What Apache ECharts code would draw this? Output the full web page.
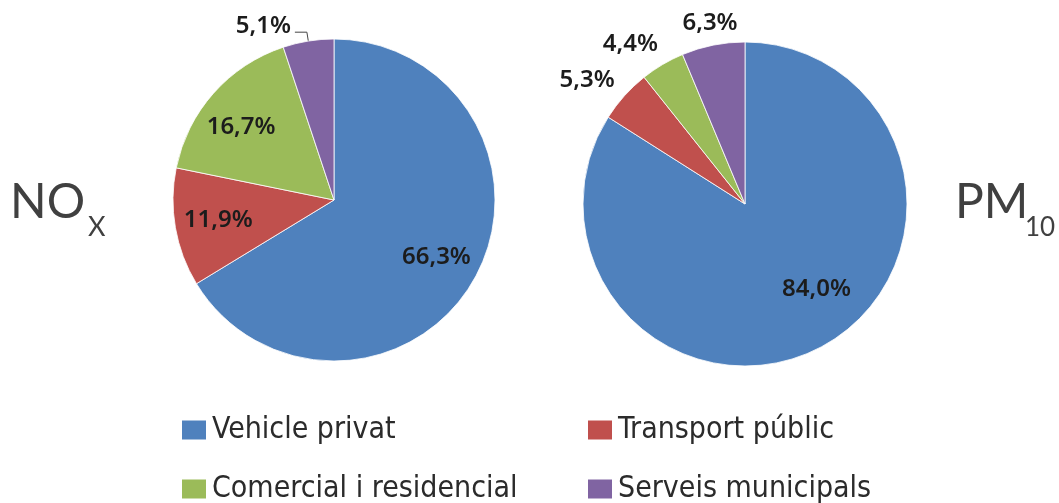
<!DOCTYPE html>
<html>
<head>
<meta charset="utf-8">
<script src="https://cdn.jsdelivr.net/npm/echarts@6/dist/echarts.min.js"></script>
<style>
  html, body { margin: 0; padding: 0; background: #fff; }
  #chart { width: 1059px; height: 503px; }
</style>
</head>
<body>
<div id="chart"></div>
<script>
// dades
const categories = ['Vehicle privat', 'Transport públic', 'Comercial i residencial', 'Serveis municipals'];
const noxValues = [66.3, 11.9, 16.7, 5.1];
const pm10Values = [84.0, 5.3, 4.4, 6.3];
const colors = ['#4F81BD', '#C0504D', '#9BBB59', '#8064A2'];

const labelFont = 'Noto Sans';
const legendFont = '"DejaVu Sans Condensed", "Liberation Sans", sans-serif';
const titleFont = 'Lato, "Open Sans", sans-serif';

function pct(v) {
  return v.toFixed(1).replace('.', ',') + '%';
}

// sectors visibles
function mainData(values, showIdx) {
  return values.map(function (v, i) {
    let item = { value: v, name: categories[i], itemStyle: { color: colors[i] } };
    if (showIdx.indexOf(i) >= 0) {
      item.label = { show: true };
      item.labelLine = { show: true };
    }
    return item;
  });
}

// anell transparent nomes per col·locar etiquetes
function labelData(values, showIdx) {
  return values.map(function (v, i) {
    return {
      value: v,
      name: categories[i],
      label: { show: showIdx.indexOf(i) >= 0 }
    };
  });
}

function labelRing(center, radius, values, showIdx, tweaks) {
  return {
    type: 'pie',
    center: center,
    radius: [0, radius],
    startAngle: 90,
    silent: true,
    animation: false,
    itemStyle: { color: 'rgba(0,0,0,0)', borderWidth: 0 },
    emphasis: { disabled: true },
    label: {
      show: true,
      position: 'inside',
      color: '#1c1c1c',
      fontFamily: labelFont,
      fontWeight: 600,
      fontSize: 24,
      formatter: function (p) { return pct(p.value); }
    },
    labelLine: { show: false },
    labelLayout: function (p) { return tweaks[p.dataIndex] || {}; },
    data: labelData(values, showIdx)
  };
}

let legendBase = {
  orient: 'vertical',
  top: 410,
  height: 93,
  itemGap: 29,
  itemWidth: 26,
  itemHeight: 21,
  icon: 'rect',
  textStyle: { fontFamily: legendFont, fontSize: 30, lineHeight: 30, color: '#2b2b2b' }
};

let myChart = echarts.init(document.getElementById('chart'));
let option = {
  animation: false,
  graphic: [
    { type: 'text', x: 10, y: 203, style: { text: 'NO', fontFamily: titleFont, fontSize: 48, fill: '#404040', verticalAlign: 'middle' } },
    { type: 'text', x: 88, y: 227, style: { text: 'X', fontFamily: titleFont, fontSize: 27, fill: '#404040', verticalAlign: 'middle' } },
    { type: 'text', x: 955, y: 203, style: { text: 'PM', fontFamily: titleFont, fontSize: 48, fill: '#404040', verticalAlign: 'middle' } },
    { type: 'text', x: 1025, y: 228, style: { text: '10', fontFamily: titleFont, fontSize: 26, fill: '#404040', verticalAlign: 'middle' } }
  ],
  legend: [
    Object.assign({}, legendBase, { left: 175, data: [categories[0], categories[2]] }),
    Object.assign({}, legendBase, { left: 581, data: [categories[1], categories[3]] })
  ],
  series: [
    {
      name: 'NOx',
      type: 'pie',
      center: [334, 200],
      radius: [0, 161],
      startAngle: 90,
      itemStyle: { borderColor: '#fff', borderWidth: 0.8 },
      emphasis: { disabled: true },
      label: {
        show: false,
        position: 'outside',
        color: '#1c1c1c',
        fontFamily: labelFont,
        fontWeight: 600,
        fontSize: 24,
        distanceToLabelLine: 4,
        formatter: function (p) { return pct(p.value); }
      },
      labelLine: { show: false, length: 9, length2: 12, smooth: false, lineStyle: { color: '#444', width: 1 } },
      labelLayout: function (p) { return p.dataIndex === 3 ? { dy: -6 } : {}; },
      data: mainData(noxValues, [3])
    },
    {
      name: 'PM10',
      type: 'pie',
      center: [745, 204],
      radius: [0, 162],
      startAngle: 90,
      itemStyle: { borderColor: '#fff', borderWidth: 0.8 },
      emphasis: { disabled: true },
      label: { show: false },
      labelLine: { show: false },
      data: mainData(pm10Values, [])
    },
    labelRing([334, 200], 229, noxValues, [0, 1, 2], { 2: { dx: -5, dy: 5 } }),
    labelRing([745, 204], 220, pm10Values, [0], { 0: { dx: 17, dy: -14 } }),
    labelRing([745, 204], 370, pm10Values, [1, 2, 3], { 1: { dx: -18, dy: 2 }, 2: { dx: -19, dy: 2 }, 3: { dx: 2, dy: 3 } })
  ]
};
// configuracio al grafic
myChart.setOption(option);
</script>
</body>
</html>
